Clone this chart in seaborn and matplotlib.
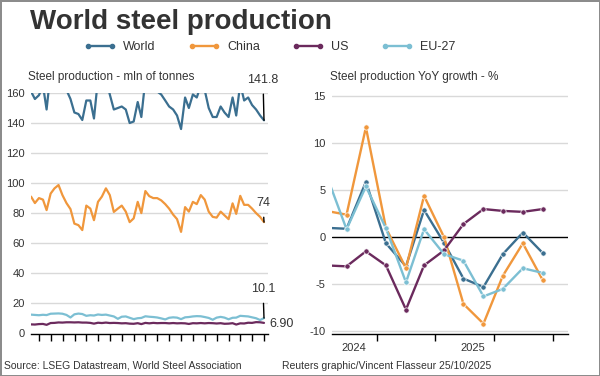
import pandas as pd
import matplotlib.pyplot as plt
import matplotlib.dates as mdates
from matplotlib.lines import Line2D
import seaborn as sns

# monthly production, mln tonnes (Oct 2020 - Sep 2025)
meses = pd.date_range("2020-10-31", periods=60, freq="ME")

world = [161, 156, 158.5, 165, 149, 174, 169.5, 174.3, 168, 162,
         156, 147, 146, 142, 155, 155, 143, 169.5, 163, 169.5,
         159, 149, 150, 151, 149, 140, 141, 154, 144, 169,
         161, 166, 161, 159, 155, 151, 149, 145, 136, 157,
         150, 159, 157, 165, 162, 150, 144, 144, 151, 147,
         144, 157, 145, 166, 155, 157, 152, 149, 145, 141.8]
china = [91, 86.7, 90, 89, 82, 93, 96.5, 98.7, 92, 86.7,
         82.7, 73, 72, 68.7, 85, 83, 75.3, 87.5, 91, 96.5,
         92, 80.8, 83, 85, 81, 74, 76.5, 87.5, 80, 94.7,
         91.3, 90, 90, 88.5, 86, 83, 79, 76, 67.5, 84,
         81, 87.5, 86, 92, 89, 81, 77.5, 77, 81, 78.5,
         76, 86.5, 79.5, 91.5, 85.5, 85.5, 83, 80, 77.5, 74]
us = [5.9, 5.8, 6.1, 6.2, 5.6, 6.8, 6.9, 7.2, 7.1, 7.3,
      7.3, 7.2, 7.3, 7.1, 7.1, 6.9, 6.4, 7.0, 6.8, 7.1,
      6.8, 6.9, 6.8, 6.6, 6.7, 6.4, 6.3, 6.7, 6.1, 6.9,
      6.6, 6.9, 6.7, 6.8, 6.8, 6.6, 6.8, 6.6, 6.7, 6.6,
      6.2, 6.7, 6.6, 6.8, 6.6, 6.8, 6.7, 6.5, 6.7, 6.3,
      6.4, 6.7, 5.8, 6.6, 6.5, 7.0, 6.9, 7.4, 7.3, 6.9]
eu = [12.4, 12.2, 12.0, 12.3, 12.1, 13.0, 13.1, 13.2, 13.0, 12.2,
      10.5, 12.6, 13.1, 12.8, 11.6, 12.0, 11.8, 12.5, 12.2, 12.4,
      11.8, 11.2, 9.6, 11.0, 11.2, 10.3, 9.4, 10.0, 10.2, 11.3,
      11.0, 10.8, 10.5, 9.9, 9.2, 10.3, 10.6, 10.4, 9.4, 10.6,
      10.8, 11.2, 11.4, 11.3, 10.8, 10.2, 9.0, 10.4, 10.9, 10.4,
      9.3, 10.3, 10.4, 11.6, 11.4, 11.2, 10.6, 10.0, 8.8, 10.1]

# YoY growth, % (Oct 2024 - Sep 2025)
meses_yoy = pd.date_range("2024-10-01", periods=12, freq="MS") + pd.Timedelta(days=14)
world_yoy = [1.0, 0.9, 5.9, -0.65, -3.1, 2.9, -0.6, -4.4, -5.3, -1.8, 0.5, -1.7]
china_yoy = [2.8, 2.4, 11.7, 1.0, -3.3, 4.4, 0.0, -7.1, -9.2, -4.1, -0.65, -4.6]
us_yoy = [-3.0, -3.1, -1.5, -3.0, -7.7, -3.0, -1.4, 1.4, 3.0, 2.8, 2.7, 3.0]
eu_yoy = [6.6, 0.85, 5.4, 0.95, -4.8, 0.85, -1.8, -2.5, -6.3, -5.5, -3.3, -3.8]

series = ["World", "China", "US", "EU-27"]
cores = {"World": "#3b6f90", "China": "#f0973c", "US": "#6b2a5d", "EU-27": "#7cbfd3"}

df_prod = pd.DataFrame({"data": list(meses) * 4,
                        "valor": world + china + us + eu,
                        "serie": [s for s in series for _ in meses]})
df_yoy = pd.DataFrame({"data": list(meses_yoy) * 4,
                       "valor": world_yoy + china_yoy + us_yoy + eu_yoy,
                       "serie": [s for s in series for _ in meses_yoy]})

sns.set_style("white")
plt.rcParams["font.family"] = ["Liberation Sans", "DejaVu Sans"]
plt.rcParams["text.color"] = "#333333"
plt.rcParams["axes.unicode_minus"] = False

fig = plt.figure(figsize=(6, 3.76), dpi=100, edgecolor="#8c8c8c", linewidth=2)
ax1 = fig.add_axes([0.0517, 0.1117, 0.395, 0.641])
ax2 = fig.add_axes([0.5528, 0.1117, 0.394, 0.6447])

sns.lineplot(data=df_prod, x="data", y="valor", hue="serie", hue_order=series,
             palette=cores, ax=ax1, legend=False, linewidth=1.6)
sns.lineplot(data=df_yoy, x="data", y="valor", hue="serie", hue_order=series,
             palette=cores, ax=ax2, legend=False, linewidth=1.7,
             marker="o", markersize=3.8, markeredgecolor="white", markeredgewidth=0.5)

grid_c = "#d9d9d9"
for ax in (ax1, ax2):
    ax.set_xlabel("")
    ax.set_ylabel("")
    for s in ("top", "right", "left"):
        ax.spines[s].set_visible(False)
    ax.spines["bottom"].set_color("black")
    ax.spines["bottom"].set_linewidth(1)
    ax.tick_params(axis="y", length=0, pad=4.5, labelsize=8, labelcolor="#333333")
    ax.tick_params(axis="x", which="both", bottom=True)
    ax.tick_params(axis="x", which="major", length=5, width=1, color="black", direction="out")
    ax.tick_params(axis="x", which="minor", length=0, pad=6.5, labelsize=8, labelcolor="#333333")
    ax.xaxis.set_major_formatter(plt.NullFormatter())
    ax.set_axisbelow(True)

# left panel
ax1.set_ylim(-0.5, 160)
ax1.set_yticks(range(0, 161, 20))
for v in range(20, 161, 20):
    ax1.axhline(v, color=grid_c, lw=1, zorder=0)
ax1.set_xlim(meses[0], pd.Timestamp("2025-10-31"))
ax1.xaxis.set_major_locator(mdates.MonthLocator(bymonth=[1, 4, 7, 10]))
anos = [pd.Timestamp(f"{a}-07-01") for a in range(2021, 2026)]
ax1.set_xticks(anos, minor=True)
ax1.set_xticklabels([str(a.year) for a in anos], minor=True)

# right panel
ax2.set_ylim(-10.3, 15.5)
ax2.set_yticks([-10, -5, 0, 5, 10, 15])
for v in [-10, -5, 5, 10, 15]:
    ax2.axhline(v, color=grid_c, lw=1, zorder=0)
ax2.axhline(0, color="black", lw=1, zorder=1)
x0, x1 = pd.Timestamp("2024-10-23"), pd.Timestamp("2025-10-24")
ax2.set_xlim(x0, x1)
ax2.set_xticks(pd.to_datetime(["2025-01-01", "2025-04-01", "2025-07-01", "2025-10-01"]))
corte = pd.Timestamp("2025-01-01")
pos_anos = [x0 + (corte - x0) / 2, corte + (x1 - corte) / 2]
ax2.set_xticks(pos_anos, minor=True)
ax2.set_xticklabels(["2024", "2025"], minor=True)

# end-value labels
ultimo = meses[-1]
seta = dict(arrowstyle="-", color="black", lw=1, shrinkA=3.5, shrinkB=0)
for val, dy in [(world[-1], 29), (china[-1], 13.7), (eu[-1], 20.8)]:
    ax1.annotate(f"{val:g}", xy=(ultimo, val), xytext=(-0.7, dy), textcoords="offset points",
                 ha="center", va="center", fontsize=9, arrowprops=seta, annotation_clip=False)
ax1.annotate(f"{us[-1]:.2f}", xy=(ultimo, us[-1]), xytext=(4, -1), textcoords="offset points",
             ha="left", va="center", fontsize=9, annotation_clip=False)

fig.text(30 / 600, 1 - 22 / 376, "World steel production", fontsize=20, fontweight="bold",
         va="center", ha="left", color="#333333")
fig.text(28 / 600, 1 - 77 / 376, "Steel production - mln of tonnes", fontsize=8.5, va="center")
fig.text(330 / 600, 1 - 77 / 376, "Steel production YoY growth - %", fontsize=8.5, va="center")
fig.text(4 / 600, 1 - 366 / 376, "Source: LSEG Datastream, World Steel Association",
         fontsize=7.5, va="center")
fig.text(282 / 600, 1 - 366 / 376, "Reuters graphic/Vincent Flasseur 25/10/2025",
         fontsize=7.5, va="center")

handles = [Line2D([], [], color=cores[s], lw=1.7, marker="o", markersize=3) for s in series]
fig.legend(handles, series, loc="center", bbox_to_anchor=(0.45, 1 - 47 / 376), ncol=4,
           frameon=False, fontsize=9, numpoints=2, handlelength=2.5, handletextpad=0.6,
           columnspacing=2.6)

fig.savefig("out.png", dpi=100)
